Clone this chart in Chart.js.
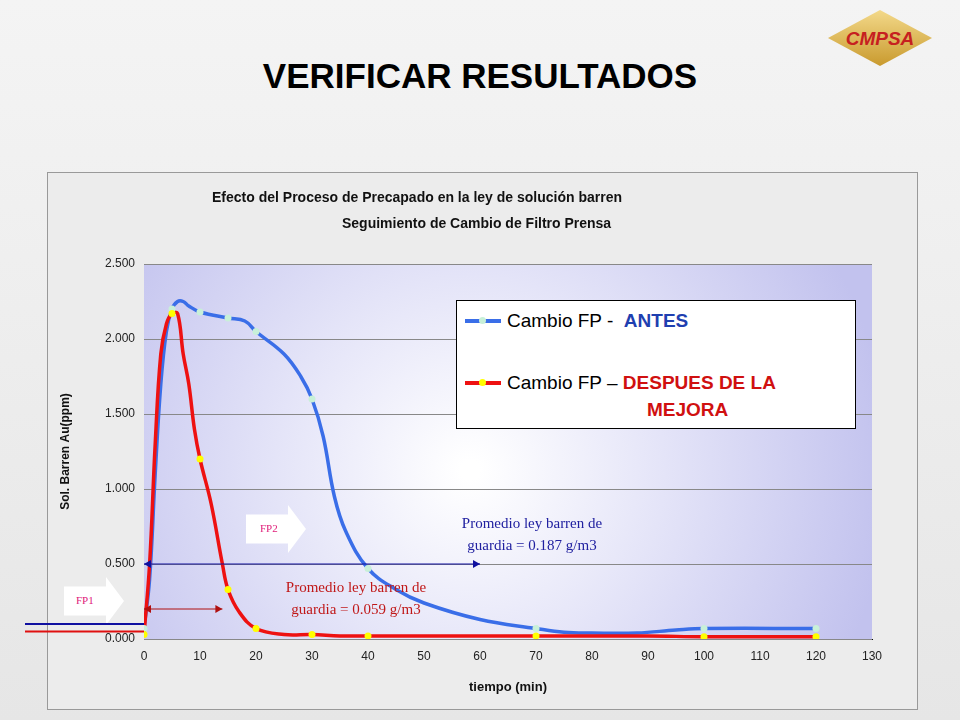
<!DOCTYPE html>
<html><head><meta charset="utf-8">
<script src="https://cdn.jsdelivr.net/npm/chart.js@4/dist/chart.umd.min.js"></script>
<style>
body{margin:0;width:960px;height:720px;overflow:hidden;background:linear-gradient(#f4f4f4,#e6e6e6);font-family:"Liberation Sans",Arial,sans-serif;position:relative}
#box{position:absolute;left:47px;top:172px;width:871px;height:538px;background:#ececec;border:1px solid #999;box-sizing:border-box}
canvas{position:absolute;left:0;top:0}
.abs{position:absolute;white-space:nowrap}
</style></head><body>
<div class="abs" style="left:0;width:960px;top:56px;text-align:center;font-size:35px;font-weight:bold;color:#000">VERIFICAR RESULTADOS</div>
<div class="abs" style="left:820px;top:8px;width:120px;height:60px">
 <div style="position:absolute;left:8px;top:2px;width:104px;height:56px;background:linear-gradient(#f3d98a,#c99a2e);clip-path:polygon(50% 0,100% 50%,50% 100%,0 50%)"></div>
 <div style="position:absolute;left:0;width:120px;top:20px;text-align:center;font-weight:bold;font-style:italic;font-size:19px;color:#c62020">CMPSA</div>
</div>
<div id="box"></div>
<div class="abs" style="left:64px;top:577px;width:60px;height:48px">
 <div style="position:absolute;left:0;top:0;width:60px;height:48px;background:#fff;clip-path:polygon(0 20%,70% 20%,70% 0,100% 50%,70% 100%,70% 80%,0 80%)"></div>
 <div style="position:absolute;left:12px;top:17px;font-family:'Liberation Serif',serif;font-size:11px;color:#e0207a">FP1</div>
</div>
<canvas id="c" width="960" height="720"></canvas>
<div class="abs" style="left:212px;top:189px;font-size:14px;font-weight:bold;color:#111">Efecto del Proceso de Precapado en la ley de solución barren</div>
<div class="abs" style="left:342px;top:215px;font-size:14px;font-weight:bold;color:#111">Seguimiento de Cambio de Filtro Prensa</div>
<div class="abs" style="left:456px;top:300px;width:400px;height:129px;background:#fff;border:1px solid #000;box-sizing:border-box">
 <div style="position:absolute;left:8px;top:18px;width:36px;height:4px;background:#3a6ee8"></div>
 <div style="position:absolute;left:22px;top:16px;width:7px;height:7px;border-radius:50%;background:#c8f0d8"></div>
 <div style="position:absolute;left:8px;top:80px;width:36px;height:4px;background:#ee1111"></div>
 <div style="position:absolute;left:22px;top:78px;width:7px;height:7px;border-radius:50%;background:#ffff00"></div>
</div>
<div class="abs" style="left:507px;top:310px;font-size:19px;color:#000">Cambio FP -&nbsp; <b style="color:#1f3fb0">ANTES</b></div>
<div class="abs" style="left:507px;top:372px;font-size:19px;color:#000">Cambio FP – <b style="color:#d01010">DESPUES DE LA</b></div>
<div class="abs" style="left:647px;top:399px;font-size:19px;font-weight:bold;color:#d01010">MEJORA</div>
<div class="abs" style="left:432px;top:512px;width:200px;text-align:center;font-family:'Liberation Serif',serif;font-size:15px;color:#2020a0;line-height:22px">Promedio ley barren de<br>guardia = 0.187 g/m3</div>
<div class="abs" style="left:256px;top:576px;width:200px;text-align:center;font-family:'Liberation Serif',serif;font-size:15px;color:#c01818;line-height:22px">Promedio ley barren de<br>guardia = 0.059 g/m3</div>
<div class="abs" style="left:246px;top:505px;width:60px;height:48px">
 <div style="position:absolute;left:0;top:0;width:60px;height:48px;background:#fff;clip-path:polygon(0 20%,70% 20%,70% 0,100% 50%,70% 100%,70% 80%,0 80%)"></div>
 <div style="position:absolute;left:14px;top:17px;font-family:'Liberation Serif',serif;font-size:11px;color:#e0207a">FP2</div>
</div>
<script>
const xTicks=[0,10,20,30,40,50,60,70,80,90,100,110,120,130];
const yTicks=[0,0.5,1.0,1.5,2.0,2.5];
const antesX=[0,1,2,3,4,5,6,7,8,10,15,18,20,25,28,30,32,34,36,40,45,50,60,70,75,80,88,95,100,120];
const antesY=[0.07,0.4,1.1,1.7,2.05,2.2,2.25,2.25,2.22,2.18,2.14,2.12,2.05,1.9,1.75,1.6,1.35,0.95,0.72,0.47,0.33,0.24,0.13,0.07,0.045,0.04,0.04,0.06,0.07,0.07];
const despuesX=[0,1,2,3,4,5,6,7,8,9,10,12,14,15,17,20,25,30,35,40,70,90,100,120];
const despuesY=[0.03,0.5,1.3,1.9,2.1,2.17,2.17,1.9,1.7,1.4,1.2,0.9,0.5,0.33,0.18,0.07,0.03,0.03,0.02,0.02,0.02,0.02,0.015,0.015];
const markX=[0,5,10,15,20,30,40,70,100,120];
const antesMarkY=[0.07,2.2,2.18,2.14,2.05,1.6,0.47,0.07,0.07,0.07];
const despuesMarkY=[0.03,2.17,1.2,0.33,0.07,0.03,0.02,0.02,0.015,0.015];
const pts=(xs,ys)=>xs.map((x,i)=>({x,y:ys[i]}));
const deco={id:'deco',
 beforeDatasetsDraw(ch){const {ctx,chartArea:a}=ch;
  const g=ctx.createRadialGradient(470,470,10,470,470,420);
  g.addColorStop(0,'#ffffff');g.addColorStop(0.45,'#e4e4f8');g.addColorStop(1,'#c2c2ee');
  ctx.save();ctx.fillStyle=g;ctx.fillRect(a.left,a.top,a.right-a.left,a.bottom-a.top);
  ctx.strokeStyle='#888';ctx.lineWidth=1;
  const ys=ch.scales.y;
  yTicks.forEach(v=>{const p=Math.round(ys.getPixelForValue(v))+0.5;ctx.beginPath();ctx.moveTo(a.left,p);ctx.lineTo(a.right,p);ctx.stroke();});
  ctx.restore();},
 afterDatasetsDraw(ch){const {ctx}=ch;const xs=ch.scales.x,ys=ch.scales.y;
  const arrow=(x1,x2,y,col)=>{const a=xs.getPixelForValue(x1),b=xs.getPixelForValue(x2),p=ys.getPixelForValue(y);
   ctx.strokeStyle=col;ctx.fillStyle=col;ctx.lineWidth=1;ctx.beginPath();ctx.moveTo(a,p);ctx.lineTo(b,p);ctx.stroke();
   [[a,1],[b,-1]].forEach(([q,d])=>{ctx.beginPath();ctx.moveTo(q,p);ctx.lineTo(q+7*d,p-4);ctx.lineTo(q+7*d,p+4);ctx.fill();});};
  ctx.save();
  arrow(0,60,0.5,'#1010a0');arrow(0,14,0.2,'#b01010');
  const x0=xs.getPixelForValue(0);
  ctx.lineWidth=2;ctx.strokeStyle='#1010a0';ctx.beginPath();ctx.moveTo(25,ys.getPixelForValue(0.1));ctx.lineTo(x0,ys.getPixelForValue(0.1));ctx.stroke();
  ctx.strokeStyle='#e01010';ctx.beginPath();ctx.moveTo(25,ys.getPixelForValue(0.05));ctx.lineTo(x0,ys.getPixelForValue(0.05));ctx.stroke();
  ctx.restore();}
};
new Chart(document.getElementById('c'),{
 type:'scatter',
 data:{datasets:[
  {data:pts(antesX,antesY),order:3,showLine:true,borderColor:'#3a6ee8',borderWidth:3.5,pointRadius:0,tension:0.4},
  {data:pts(despuesX,despuesY),order:2,showLine:true,borderColor:'#ee1111',borderWidth:3.5,pointRadius:0,tension:0.4},
  {data:pts(markX,antesMarkY),order:1,pointRadius:3.5,pointBackgroundColor:'#c8f0d8',pointBorderWidth:0},
  {data:pts(markX,despuesMarkY),order:0,pointRadius:3.5,pointBackgroundColor:'#ffff00',pointBorderWidth:0}
 ]},
 plugins:[deco],
 options:{responsive:false,animation:false,
  layout:{padding:{left:54,right:88,top:264,bottom:21}},
  plugins:{legend:{display:false},tooltip:{enabled:false}},
  scales:{
   x:{type:'linear',min:0,max:130,afterBuildTicks:s=>{s.ticks=xTicks.map(v=>({value:v}));},
    grid:{display:false,drawTicks:true,tickLength:6,color:'#000'},border:{color:'#000'},
    ticks:{color:'#222',font:{size:12,family:'Liberation Sans'},padding:4},
    title:{display:true,text:'tiempo (min)',color:'#111',font:{size:13,weight:'bold',family:'Liberation Sans'},padding:{top:12}},
    afterFit:s=>{s.height=60;}},
   y:{min:0,max:2.5,afterBuildTicks:s=>{s.ticks=yTicks.map(v=>({value:v}));},
    grid:{display:false,drawTicks:true,tickLength:6,color:'#000'},border:{color:'#000'},
    ticks:{color:'#222',font:{size:12,family:'Liberation Sans'},callback:v=>v.toFixed(3)},
    title:{display:true,text:'Sol. Barren Au(ppm)',color:'#111',font:{size:12,weight:'bold',family:'Liberation Sans'}},
    afterFit:s=>{s.width=90;}}
  }}
});
</script></body></html>
